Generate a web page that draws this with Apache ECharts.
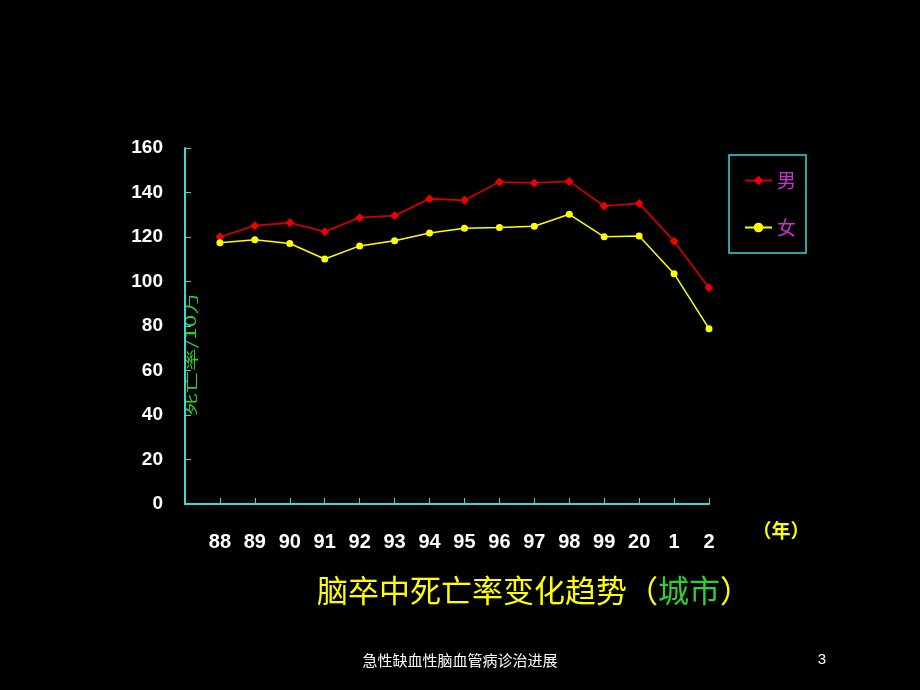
<!DOCTYPE html>
<html><head><meta charset="utf-8">
<script src="https://cdn.jsdelivr.net/npm/echarts@6/dist/echarts.min.js"></script>
<style>html,body{margin:0;padding:0;background:#000;}#c{width:920px;height:690px;}</style>
</head><body><div id="c"></div>
<script>
var categories = ['88','89','90','91','92','93','94','95','96','97','98','99','20','1','2'];
var maleValues = [120, 125.1, 126.4, 122.4, 128.7, 129.6, 137.2, 136.5, 144.7, 144.3, 145, 133.9, 135.1, 118.1, 97.2];
var femaleValues = [117.4, 118.8, 117.1, 110.1, 116, 118.3, 121.8, 123.9, 124.3, 124.8, 130.2, 120.1, 120.4, 103.5, 78.8];
var seriesNames = ['男', '女'];

function toPoints(vals){ return vals.map(function(v,i){ return [i+1, v]; }); }

var chart = echarts.init(document.getElementById('c'));
var cyan = '#3ad8d8';
chart.setOption({
  backgroundColor: '#000',
  animation: false,
  grid: {left: 185, right: 211, top: 148, bottom: 186},
  xAxis: {
    type: 'value', min: 0, max: categories.length, interval: 1,
    axisLine: {show: true, lineStyle: {color: cyan, width: 2}},
    axisTick: {show: true, inside: true, length: 6, lineStyle: {color: cyan, width: 1}},
    splitLine: {show: false},
    axisLabel: {
      margin: 28, color: '#fff', fontSize: 20, fontWeight: 'bold', fontFamily: 'Liberation Sans',
      formatter: function(v){ return v >= 1 ? categories[v-1] : ''; }
    }
  },
  yAxis: {
    type: 'value', min: 0, max: 160, interval: 20,
    axisLine: {show: true, lineStyle: {color: cyan, width: 2}},
    axisTick: {show: true, inside: true, length: 6, lineStyle: {color: cyan, width: 1}},
    splitLine: {show: false},
    axisLabel: {margin: 22, color: '#fff', fontSize: 19, fontWeight: 'bold', fontFamily: 'Liberation Sans'}
  },
  legend: {
    orient: 'vertical', left: 729, top: 155,
    padding: [16, 10, 16, 15], itemGap: 28, itemWidth: 27, itemHeight: 12,
    borderColor: cyan, borderWidth: 1.5,
    textStyle: {color: '#cc33cc', fontSize: 19, fontFamily: 'Noto Sans CJK SC'},
    data: seriesNames
  },
  series: [
    {name: seriesNames[0], type: 'line', data: toPoints(maleValues),
     symbol: 'diamond', symbolSize: 9,
     itemStyle: {color: '#ee0000'}, lineStyle: {color: '#cc0000', width: 1.8}},
    {name: seriesNames[1], type: 'line', data: toPoints(femaleValues),
     symbol: 'circle', symbolSize: 7,
     itemStyle: {color: '#ffff00'}, lineStyle: {color: '#ffff00', width: 1.5}}
  ],
  graphic: [
    {type: 'text', x: 191, y: 354, rotation: Math.PI/2, scaleX: 1.6,
     style: {text: '死亡率/10万', fill: '#33cc33', fontSize: 14, fontFamily: 'Noto Sans CJK SC', align: 'center', verticalAlign: 'middle'}},
    {type: 'text', x: 781, y: 531,
     style: {text: '（年）', fill: '#ffff00', fontSize: 19, fontFamily: 'Noto Sans CJK SC', fontWeight: 'bold', align: 'center', verticalAlign: 'middle'}},
    {type: 'text', x: 534, y: 590,
     style: {text: '{a|脑卒中死亡率变化趋势（}{b|城市}{a|）}', align: 'center', verticalAlign: 'middle',
       rich: {a: {fill: '#ffff00', fontSize: 31, fontFamily: 'Noto Sans CJK SC'}, b: {fill: '#33cc33', fontSize: 31, fontFamily: 'Noto Sans CJK SC'}}}},
    {type: 'text', x: 460, y: 660,
     style: {text: '急性缺血性脑血管病诊治进展', fill: '#fff', fontSize: 15, fontFamily: 'Noto Sans CJK SC', align: 'center', verticalAlign: 'middle'}},
    {type: 'text', x: 822, y: 660,
     style: {text: '3', fill: '#fff', fontSize: 15, fontFamily: 'Liberation Sans', align: 'center', verticalAlign: 'middle'}}
  ]
});
</script></body></html>
